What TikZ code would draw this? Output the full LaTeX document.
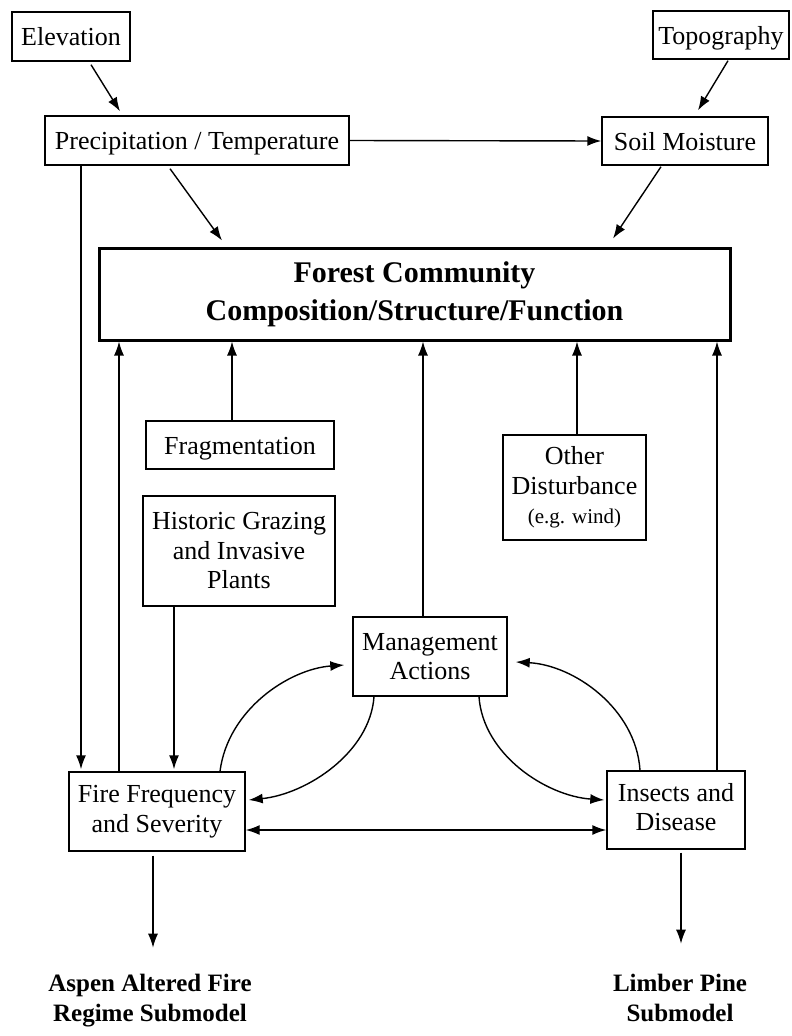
\documentclass[tikz,border=0pt]{standalone}
\usepackage{fontspec}
\setmainfont{Liberation Serif}
\usetikzlibrary{arrows.meta,calc}
\begin{document}
\begin{tikzpicture}[x=1pt,y=-1pt,
  box/.style={draw, line width=1.4pt, align=center, inner sep=0pt,
    font=\fontsize{26}{29.5}\selectfont},
  oneline/.style={text height=21pt, text depth=3pt},
  mainbox/.style={draw, line width=3pt, align=center, inner sep=0pt,
    font=\bfseries\fontsize{30}{38}\selectfont},
  outlabel/.style={align=center, inner sep=0pt,
    font=\bfseries\fontsize{25}{30}\selectfont},
  arr/.style={line width=1.4pt, -{Latex[length=14pt,width=10pt]}},
  darr/.style={line width=1.4pt, {Latex[length=14pt,width=10pt]}-{Latex[length=14pt,width=10pt]}}
]
\useasboundingbox (0,0) rectangle (792,1036);

% boxes
\node[box, oneline, minimum width=118pt, minimum height=49pt] (elev) at (71,36.5) {Elevation};
\node[box, oneline, minimum width=304pt, minimum height=49pt] (precip) at (197,140.5) {Precipitation / Temperature};
\node[box, oneline, minimum width=136pt, minimum height=48pt] (topo) at (721,35) {Topography};
\node[box, oneline, minimum width=166pt, minimum height=48pt] (soil) at (685,141) {Soil Moisture};
\node[mainbox, minimum width=631pt, minimum height=92pt] (forest) at (414.5,294)
  {Forest Community\\Composition/Structure/Function};
\node[box, oneline, minimum width=188pt, minimum height=48pt] (frag) at (240,445) {Fragmentation};
\node[box, minimum width=192pt, minimum height=110pt] (graz) at (239,551)
  {Historic Grazing\\and Invasive\\Plants};
\node[box, minimum width=143pt, minimum height=105pt] (other) at (574.5,487.5)
  {Other\\Disturbance\\{\fontsize{21}{26}\selectfont (e.g. wind)}};
\node[box, minimum width=154pt, minimum height=79pt] (mgmt) at (430,656.5)
  {Management\\Actions};
\node[box, minimum width=176pt, minimum height=79pt] (fire) at (157,811.5)
  {Fire Frequency\\and Severity};
\node[box, minimum width=138pt, minimum height=78pt] (insect) at (676,810)
  {Insects and\vphantom{y}\\Disease\vphantom{y}};
\node[outlabel] (aspen) at (150,1001) {Aspen Altered Fire\\Regime Submodel};
\node[outlabel] (limber) at (680,1001) {Limber Pine\vphantom{p}\\Submodel\vphantom{g}};

% top-level drivers
\draw[arr] ([xshift=20pt,yshift=-3pt]elev.south) -- ([xshift=-77pt,yshift=4pt]precip.north);
\draw[arr] ([xshift=7pt,yshift=-1pt]topo.south) -- ([xshift=13pt,yshift=6pt]soil.north);
\draw[arr] (precip.east) -- (soil.west);
\draw[arr] ([xshift=-27pt,yshift=-3pt]precip.south) -- ([xshift=-192.5pt,yshift=6pt]forest.north);
\draw[arr] ([xshift=-24pt,yshift=-1pt]soil.south) -- ([xshift=198.5pt,yshift=8pt]forest.north);
\draw[arr] ([xshift=-116pt]precip.south) -- ([xshift=-76pt,yshift=2pt]fire.north);

% influences on the forest community
\draw[arr] ([xshift=-38pt]fire.north) -- ([xshift=-38pt]fire.north |- forest.south);
\draw[arr] ([xshift=-8pt]frag.north) -- ([xshift=-8pt]frag.north |- forest.south);
\draw[arr] ([xshift=-7pt]mgmt.north) -- ([xshift=-7pt]mgmt.north |- forest.south);
\draw[arr] ([xshift=2.5pt]other.north) -- ([xshift=2.5pt]other.north |- forest.south);
\draw[arr] ([xshift=41pt]insect.north) -- ([xshift=41pt]insect.north |- forest.south);
\draw[arr] ([xshift=-65pt]graz.south) -- ([xshift=-65pt,yshift=2pt]graz.south |- fire.north);

% disturbance interactions
\draw[darr] ([yshift=-18.5pt]fire.east) -- ([yshift=-18.5pt]fire.east -| insect.west);
\draw[arr] ([xshift=63pt]fire.north) .. controls +(8,-62) and +(-55,4) .. ([xshift=-8pt,yshift=-8.5pt]mgmt.west);
\draw[arr] ([xshift=-56pt]mgmt.south) .. controls +(-4,56) and +(58,-6) .. ([xshift=3pt,yshift=11.5pt]fire.east);
\draw[arr] ([xshift=49pt]mgmt.south) .. controls +(4,58) and +(-58,-4) .. ([xshift=-2pt,yshift=10pt]insect.west);
\draw[arr] ([xshift=-36pt]insect.north) .. controls +(-4,-62) and +(58,3) .. ([xshift=8pt,yshift=-5.5pt]mgmt.east);

% links to submodels
\draw[arr] ([xshift=-4pt,yshift=-4pt]fire.south) -- ([xshift=-4pt,yshift=-96pt]fire.south);
\draw[arr] ([xshift=5pt,yshift=-3pt]insect.south) -- ([xshift=5pt,yshift=-94pt]insect.south);
\end{tikzpicture}
\end{document}
